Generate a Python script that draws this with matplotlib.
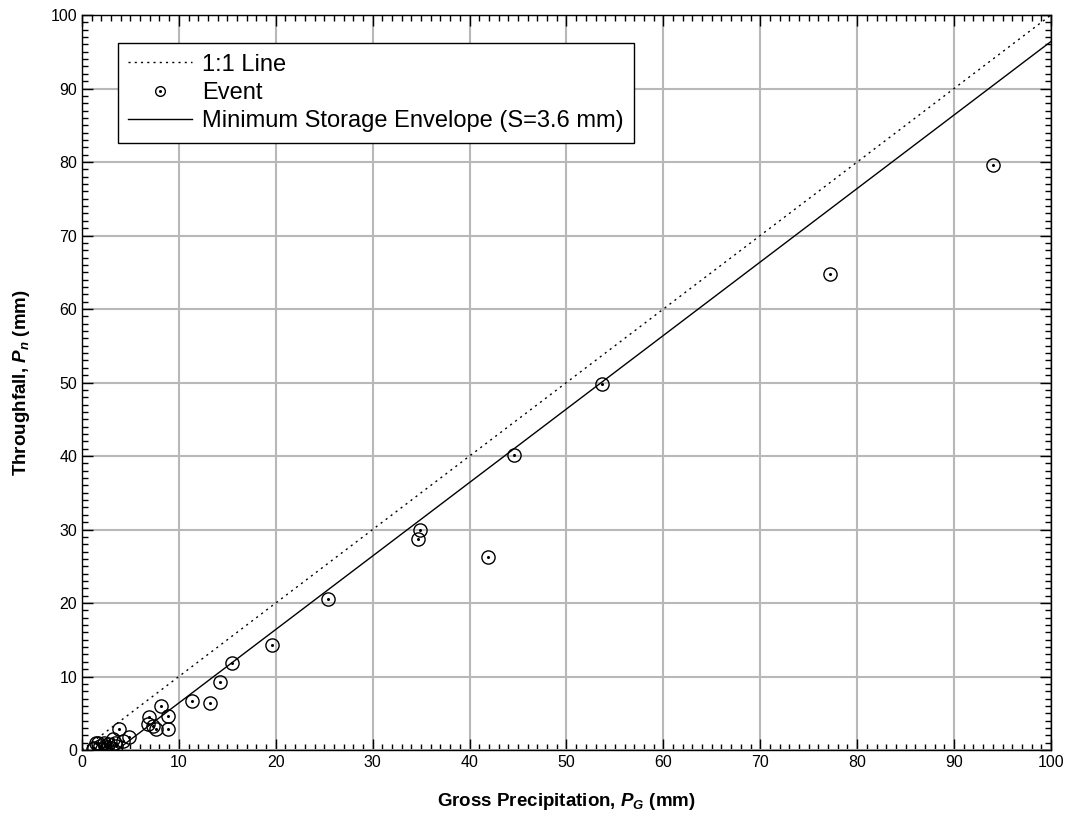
import matplotlib.pyplot as plt
from matplotlib.ticker import MultipleLocator

plt.rcParams['font.family'] = ['Liberation Sans', 'DejaVu Sans']
plt.rcParams['mathtext.fontset'] = 'custom'
plt.rcParams['mathtext.rm'] = 'Liberation Sans:bold'
plt.rcParams['mathtext.it'] = 'Liberation Sans:bold:italic'
plt.rcParams['mathtext.bf'] = 'Liberation Sans:bold'

# event data: gross precipitation vs throughfall (mm)
gross_precip = [94.0, 77.2, 53.7, 44.6, 41.9, 34.9, 34.7, 25.4, 19.6, 15.5,
                14.2, 13.2, 11.4, 8.2, 8.9, 8.9, 6.9, 6.8, 7.3, 7.6,
                3.8, 4.9, 3.2, 3.4, 2.7, 2.3, 1.5, 1.2, 1.9, 2.1,
                2.6, 3.0, 4.2, 3.5, 1.1, 1.7, 2.4]
throughfall = [79.6, 64.7, 49.8, 40.1, 26.3, 30.0, 28.7, 20.5, 14.3, 11.8,
               9.2, 6.4, 6.6, 6.0, 4.6, 2.9, 4.5, 3.6, 3.3, 2.9,
               2.8, 1.8, 1.5, 1.0, 0.8, 1.0, 1.0, 0.3, 0.6, 0.2,
               0.4, 0.3, 1.2, 0.6, 0.1, 0.9, 0.5]

one_to_one = [0, 100]
storage = 3.6
envelope_x = [storage, 100]
envelope_y = [x - storage for x in envelope_x]

fig = plt.figure(figsize=(10.7, 8.17), dpi=100)
ax = fig.add_axes([0.0766, 0.082, 0.9056, 0.8996])

ax.grid(True, which='major', color='#b8b8b8', linewidth=1.5, zorder=0)
ax.plot(one_to_one, one_to_one, color='black', linestyle=(0, (1.5, 3)),
        linewidth=1.0, zorder=3)
ax.plot(envelope_x, envelope_y, color='black', linewidth=1.0, zorder=3)
ax.plot(gross_precip, throughfall, linestyle='none', marker='o',
        markersize=9.5, markerfacecolor='none', markeredgecolor='black',
        markeredgewidth=1.0, zorder=4)
ax.plot(gross_precip, throughfall, linestyle='none', marker='o',
        markersize=1.2, color='black', zorder=4)

h_line, = ax.plot([], [], color='black', linestyle=(0, (1.5, 3)), linewidth=1.0)
h_circ, = ax.plot([], [], linestyle='none', marker='o', markersize=7,
                  markerfacecolor='none', markeredgecolor='black', markeredgewidth=1.0)
h_dot, = ax.plot([], [], linestyle='none', marker='o', markersize=1.2, color='black')
h_env, = ax.plot([], [], color='black', linewidth=1.0)

leg = ax.legend([h_line, (h_circ, h_dot), h_env],
                ['1:1 Line', 'Event', 'Minimum Storage Envelope (S=3.6 mm)'],
                loc='upper left', bbox_to_anchor=(0.037, 0.962), fontsize=17,
                fancybox=False, framealpha=1, edgecolor='black',
                handlelength=2.7, handletextpad=0.42, labelspacing=0.27,
                borderpad=0.45, borderaxespad=0)
leg.get_frame().set_linewidth(1.0)

ax.set_xlim(0, 100)
ax.set_ylim(0, 100)
ax.xaxis.set_major_locator(MultipleLocator(10))
ax.yaxis.set_major_locator(MultipleLocator(10))
ax.xaxis.set_minor_locator(MultipleLocator(1))
ax.yaxis.set_minor_locator(MultipleLocator(1))
ax.tick_params(which='both', direction='in', top=True, right=True,
               labelsize=11.5, width=1.0)
ax.tick_params(which='major', length=8)
ax.tick_params(which='minor', length=4)
for sp in ax.spines.values():
    sp.set_linewidth(1.0)

ax.set_xlabel(r'Gross Precipitation, $\mathit{P}_{\mathit{G}}$ (mm)',
              fontsize=13.5, fontweight='bold', labelpad=15)
ax.set_ylabel(r'Throughfall, $\mathit{P}_{\mathit{n}}$ (mm)',
              fontsize=13.5, fontweight='bold', labelpad=13)

fig.savefig('out.png', dpi=100)
